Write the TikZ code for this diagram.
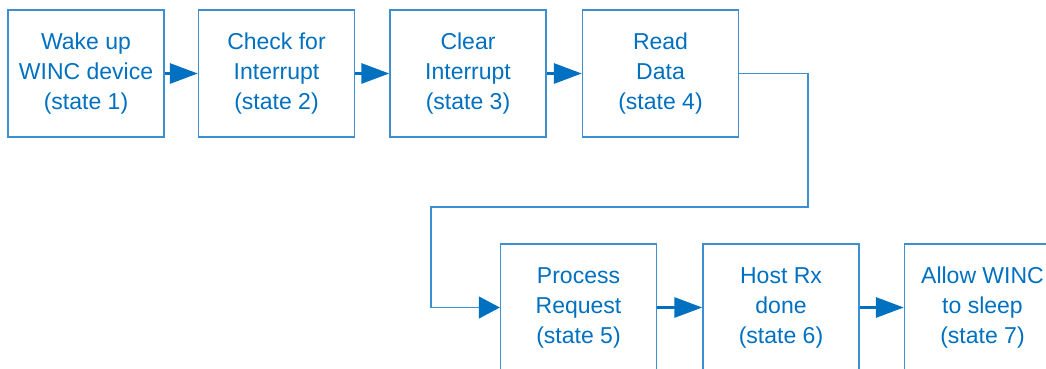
\documentclass[tikz,border=0pt]{standalone}
\usepackage{fontspec}
\setmainfont{Liberation Sans}
\usetikzlibrary{arrows.meta}
\definecolor{txtblue}{HTML}{0070C0}
\definecolor{boxblue}{HTML}{3E8ED2}
\tikzset{
  statebox/.style={draw=boxblue, line width=1.4pt, minimum width=156pt, minimum height=127pt,
    inner sep=0pt, align=center, text=txtblue, font=\fontsize{23}{30}\selectfont},
  flow/.style={draw=txtblue, line width=3pt, -{Triangle[length=28pt,width=20pt,fill=txtblue]}},
  loopline/.style={draw=boxblue, line width=1.4pt, -{Triangle[length=21pt,width=22pt,fill=txtblue,color=txtblue]}},
}
\begin{document}
\begin{tikzpicture}[x=1pt,y=-1pt]
\useasboundingbox (0,0) rectangle (1046,368);
\clip (0,0) rectangle (1046,368);
\node[statebox] (s1) at (86,73.5) {Wake up\\WINC device\\(state 1)};
\node[statebox] (s2) at (276.5,73.5) {Check for\\Interrupt\\(state 2)};
\node[statebox] (s3) at (468,73.5) {Clear\\Interrupt\\(state 3)};
\node[statebox] (s4) at (660.5,73.5) {Read\\Data\\(state 4)};
\node[statebox] (s5) at (578.5,307.5) {Process\\Request\\(state 5)};
\node[statebox] (s6) at (781,307.5) {Host Rx\\done\\(state 6)};
\node[statebox] (s7) at (982.5,307.5) {Allow WINC\\to sleep\\(state 7)};
\draw[flow] (s1) -- (s2);
\draw[flow] (s2) -- (s3);
\draw[flow] (s3) -- (s4);
\draw[flow] (s5) -- (s6);
\draw[flow] (s6) -- (s7);
\coordinate (a) at (808,73.5);
\coordinate (b) at (808,207);
\coordinate (c) at (431,207);
\coordinate (d) at (431,307.5);
\draw[loopline] (s4.east) -- (a) -- (b) -- (c) -- (d) -- (s5.west);
\end{tikzpicture}
\end{document}
